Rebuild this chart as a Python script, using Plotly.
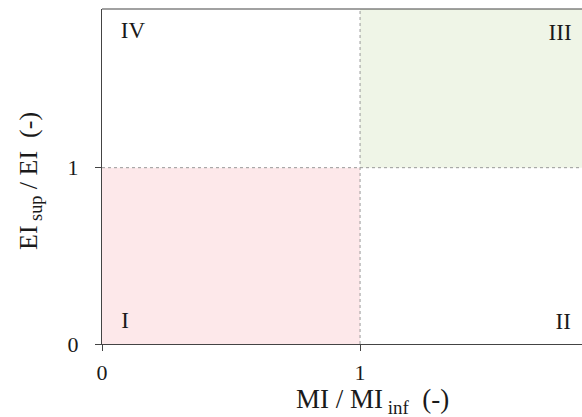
import plotly.graph_objects as go

# Data
x_range = [0, 1.86]
y_range = [0, 1.90]
threshold_x = 1
threshold_y = 1
quadrant_labels = ["I", "II", "III", "IV"]
label_x = [0.089, 1.787, 1.775, 0.12]
label_y = [0.125, 0.12, 1.755, 1.77]
x_ticks = [0, 1]
y_ticks = [0, 1]
x_title = "MI / MI<sub> inf</sub>  (-)"
y_title = "EI<sub> sup</sub> / EI  (-)"
pink_fill = "rgba(253,232,234,1)"
green_fill = "rgba(239,245,231,1)"

font_family = "Liberation Serif"
text_color = "#1a1a1a"
axis_color = "#444444"

fig = go.Figure()

# Quadrant I (red) : x 0..1, y 0..1
fig.add_trace(go.Scatter(
    x=[0, threshold_x, threshold_x, 0, 0],
    y=[0, 0, threshold_y, threshold_y, 0],
    fill="toself", fillcolor=pink_fill, line=dict(width=0),
    mode="lines", hoverinfo="skip", showlegend=False))
# Quadrant III (green) : x 1..max, y 1..max
fig.add_trace(go.Scatter(
    x=[threshold_x, x_range[1], x_range[1], threshold_x, threshold_x],
    y=[threshold_y, threshold_y, y_range[1], y_range[1], threshold_y],
    fill="toself", fillcolor=green_fill, line=dict(width=0),
    mode="lines", hoverinfo="skip", showlegend=False))
# Dotted threshold lines
fig.add_trace(go.Scatter(
    x=[threshold_x, threshold_x], y=[y_range[0], y_range[1]],
    mode="lines", line=dict(color="#999999", width=1, dash="dot"),
    hoverinfo="skip", showlegend=False))
fig.add_trace(go.Scatter(
    x=[x_range[0], x_range[1]], y=[threshold_y, threshold_y],
    mode="lines", line=dict(color="#999999", width=1, dash="dot"),
    hoverinfo="skip", showlegend=False))
# Quadrant labels
fig.add_trace(go.Scatter(
    x=label_x, y=label_y, text=quadrant_labels, mode="text",
    textfont=dict(family=font_family, size=23, color=text_color),
    hoverinfo="skip", showlegend=False))

fig.update_layout(
    width=582, height=417,
    margin=dict(l=102, r=0, t=9, b=73),
    paper_bgcolor="white", plot_bgcolor="white",
    font=dict(family=font_family, color=text_color),
    xaxis=dict(
        range=x_range, tickvals=x_ticks, ticktext=[str(v) for v in x_ticks],
        showgrid=False, zeroline=False, showline=True, linecolor=axis_color,
        linewidth=1.2, ticks="outside", ticklen=6, tickcolor=axis_color,
        ticklabelstandoff=2,
        tickfont=dict(size=22, family=font_family, color=text_color)),
    yaxis=dict(
        range=y_range, tickvals=y_ticks, ticktext=[str(v) for v in y_ticks],
        showgrid=False, zeroline=False, showline=True, linecolor=axis_color,
        linewidth=1.2, ticks="outside", ticklen=6, tickcolor=axis_color,
        ticklabelstandoff=12,
        tickfont=dict(size=22, family=font_family, color=text_color)),
)
# top border line
fig.add_shape(type="line", xref="paper", yref="paper", x0=0, x1=1, y0=1, y1=1,
              line=dict(color=axis_color, width=1.2))

# Axis titles as annotations
fig.add_annotation(text=x_title, xref="paper", yref="paper",
                   x=(372 - 102) / 480, y=-(401 - 344) / 335,
                   xanchor="center", yanchor="middle", showarrow=False,
                   font=dict(size=27, family=font_family, color=text_color))
fig.add_annotation(text=y_title, xref="paper", yref="paper",
                   x=-(102 - 30) / 480, y=(344 - 181) / 335,
                   xanchor="center", yanchor="middle", showarrow=False,
                   textangle=-90,
                   font=dict(size=26, family=font_family, color=text_color))

fig.write_html("out.html")
